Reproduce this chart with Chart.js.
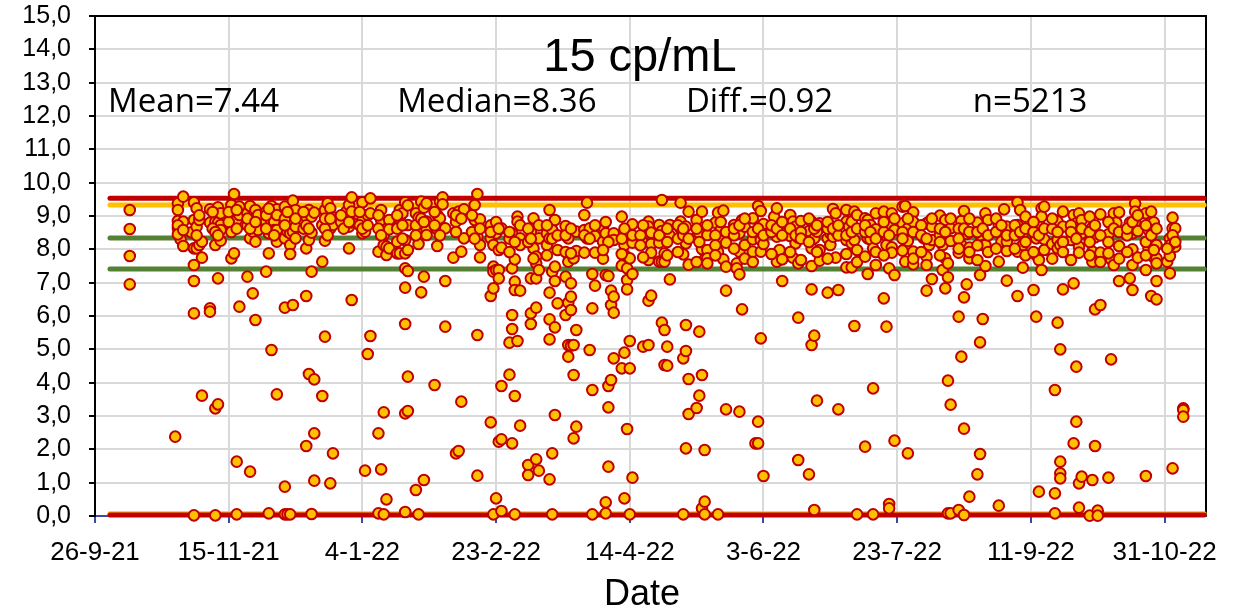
<!DOCTYPE html>
<html>
<head>
<meta charset="utf-8">
<title>15 cp/mL</title>
<script src="https://cdn.jsdelivr.net/npm/chart.js@4"></script>
<style>
    body { margin: 0; background: #ffffff; }
    canvas { display: block; }
</style>
</head>
<body>
<canvas id="chart" width="1234" height="610"></canvas>
<script>
// x axis runs in days since the first tick (26-9-21)
const dateTicks = ['26-9-21', '15-11-21', '4-1-22', '23-2-22', '14-4-22', '3-6-22', '23-7-22', '11-9-22', '31-10-22'];
const valueTicks = ['0,0', '1,0', '2,0', '3,0', '4,0', '5,0', '6,0', '7,0', '8,0', '9,0', '10,0', '11,0', '12,0', '13,0', '14,0', '15,0'];
const daysShown = 415.5;

// [day, [values read on that day]]
const readingsFirst = [
    [13, [9.18, 8.61, 7.80, 6.95]], [30, [2.38]], [31, [9.38, 9.18, 8.85, 8.63]], [32, [8.63, 8.30]],
    [33, [9.58, 8.83, 8.10]], [36, [8.51]], [37, [9.41, 8.88, 8.03, 7.53, 7.05, 6.08, 0.02]],
    [38, [9.23, 8.68, 8.03]], [39, [8.88, 8.13]], [40, [8.23, 7.75, 3.61]], [43, [9.20, 8.80, 6.23, 6.13]],
    [45, [8.83, 8.13, 3.23, 0.02]], [46, [9.26, 8.80, 7.13, 3.35]], [47, [9.08, 8.73, 8.58, 8.26]],
    [51, [9.33, 8.88, 8.73, 7.73]], [52, [9.66, 8.93, 8.68, 7.88]], [53, [8.88, 1.63, 0.05]],
    [54, [9.28, 9.03, 6.28]], [57, [9.08, 7.18]], [58, [9.30, 8.88, 8.33, 1.33]], [59, [8.98, 8.53, 6.68]],
    [60, [9.18, 8.23, 5.88]], [61, [9.03, 8.58]], [64, [9.13, 8.83, 7.33]], [65, [8.48, 7.88, 0.08]],
    [66, [9.30, 8.83, 8.58, 4.98]], [67, [9.08, 8.83, 8.58]], [68, [9.20, 9.03, 8.58, 8.23, 3.65]],
    [71, [9.28, 8.33, 6.25, 0.88, 0.05]], [72, [8.88, 8.53, 0.05]], [73, [8.83, 8.48, 8.13, 7.86, 0.05]],
    [74, [9.46, 8.53, 6.33]], [75, [9.18, 8.68, 8.33]], [78, [8.88]], [79, [8.98, 8.03, 6.60, 2.10]],
    [80, [9.18, 8.28, 4.26]], [81, [8.98, 8.50, 7.33, 0.06]], [82, [9.10, 4.10, 2.48, 1.06]],
    [85, [8.73, 7.63, 3.60]], [86, [9.18, 8.26, 5.38]], [87, [9.38, 8.68, 8.53]], [88, [9.23, 8.63, 0.98]],
    [89, [8.95, 8.73, 1.88]], [94, [9.13, 8.88, 8.73]], [95, [9.33, 8.68, 8.03]], [96, [9.56, 9.13, 8.81, 6.48]],
    [100, [9.41, 8.88, 8.48]], [101, [8.53, 1.36]], [102, [9.03, 4.86]], [103, [9.53, 9.08, 5.40]],
    [106, [7.93, 2.48, 0.08]], [107, [9.18, 8.88, 1.40]], [108, [8.43, 8.13, 3.11, 0.05]], [109, [8.08, 7.83, 0.50]],
    [110, [8.88, 8.60, 8.03]], [113, [8.23, 7.88]], [114, [9.18, 8.93, 8.73, 7.88]], [115, [9.08]],
    [116, [9.41, 8.28, 7.88, 7.43, 6.85, 5.76, 3.08, 0.12]], [117, [8.73, 7.98, 7.35, 4.18, 3.15]],
    [120, [9.08, 0.78]], [121, [8.95, 8.16, 0.05]], [122, [9.43, 8.58, 6.71]], [123, [9.25, 7.18, 1.08]],
    [124, [9.38, 8.83, 8.58, 8.43]], [127, [3.93]], [128, [9.03, 8.60, 8.10]], [129, [9.43, 8.93]],
    [130, [9.56, 9.35]], [131, [8.63, 7.05, 5.68]], [134, [9.08, 7.75]], [135, [8.83, 1.88]],
    [136, [9.13, 1.95]], [137, [7.93, 3.43]], [138, [9.20, 8.33]]
];
const readingsMiddle = [
    [142, [9.33, 8.88]], [143, [9.66, 8.38, 5.43, 1.21]], [144, [8.90, 8.13, 7.76]], [148, [8.33, 6.60, 2.81]],
    [149, [8.13, 7.48, 7.33, 6.83, 0.05]], [150, [8.48, 7.38, 0.53]], [151, [7.98, 7.38, 7.13, 2.23]],
    [152, [8.63, 8.05, 3.90, 2.30, 0.15]], [155, [5.20, 4.24]], [156, [8.48, 7.43, 6.03, 5.61, 2.18]],
    [157, [7.70, 7.03, 6.78, 3.60, 0.05]], [158, [8.98, 8.83, 5.25]], [159, [8.33, 8.13, 6.76, 2.71]],
    [162, [1.53, 1.23]], [163, [8.53, 7.13, 6.08, 5.76]], [164, [8.93, 8.03]], [165, [7.78, 7.58, 7.13, 6.25, 1.70]],
    [166, [8.33, 7.38, 1.36]], [169, [8.48, 8.13]], [170, [9.18, 8.33, 6.70, 5.90, 5.30, 1.10]],
    [171, [8.58, 7.33, 1.88, 0.05]], [172, [8.88, 7.48, 7.05, 5.66, 3.03]], [173, [7.98, 6.38]],
    [176, [8.70, 7.18, 6.03]], [177, [8.33, 7.63, 6.40, 5.13, 4.78]], [178, [6.98, 6.58, 6.18, 5.11]],
    [179, [7.73, 5.13, 4.23, 2.33]], [180, [8.53, 7.95, 5.58, 2.68]], [183, [9.03, 8.58, 7.90]], [184, [9.40, 8.33]],
    [185, [8.63, 4.98]], [186, [7.26, 6.23, 3.78, 0.05]], [187, [8.40, 7.90, 6.91]], [190, [8.68, 8.23]],
    [191, [8.48, 7.23, 0.41, 0.08]], [192, [7.20, 3.90, 3.26, 1.48]], [193, [8.28, 6.76, 6.33, 4.08]],
    [194, [8.48, 8.28, 6.58, 6.10, 4.73]], [197, [8.98, 7.51, 4.43]], [198, [8.13, 7.83, 4.90, 0.53]],
    [199, [8.53, 7.43, 7.08, 6.80, 2.61]], [200, [7.73, 5.25, 4.43, 0.05]], [201, [8.75, 8.20, 7.26, 1.15]],
    [205, [8.20, 5.08]], [207, [8.83, 8.68, 7.68, 6.46, 5.13]], [208, [8.50, 8.16, 7.90, 6.61]],
    [211, [8.73, 8.20, 7.63]], [212, [9.48, 8.55, 7.63, 5.80]], [213, [7.88, 7.63, 5.58, 4.53]], [214, [5.08, 4.51]],
    [215, [8.73, 8.41, 7.10]], [219, [9.40, 8.83, 8.63]], [220, [7.85, 4.73, 0.05]], [221, [8.68, 8.18, 5.73, 4.95, 2.03]],
    [222, [9.13, 7.54, 4.11, 3.06]], [225, [8.88, 8.38, 3.24]], [226, [8.48, 5.53, 3.61]], [227, [9.13, 8.01, 4.23, 0.23]],
    [228, [7.70, 1.98, 0.43, 0.05]], [229, [8.43, 7.98, 7.73, 7.58]], [232, [8.80]], [233, [9.10, 7.93, 0.05]],
    [234, [8.58, 8.28]], [235, [9.16, 8.26, 7.70]], [236, [8.20, 7.48, 6.76, 3.20]], [239, [8.73]], [240, [7.58, 7.43]],
    [241, [8.48, 7.93, 7.25, 3.13]], [242, [8.88, 6.20]], [243, [8.68, 8.13]], [246, [8.93, 8.30, 7.93]], [247, [2.18]],
    [248, [9.30, 2.83, 2.18]], [249, [9.15, 8.28, 7.93, 5.33]], [250, [8.76, 8.16, 1.20]], [254, [8.98]],
    [255, [9.23, 8.38, 7.63]], [256, [8.55, 7.98]], [257, [7.70, 7.05]], [260, [9.03, 8.40]], [261, [8.83, 7.75]],
    [262, [8.68, 8.18]], [263, [8.35, 7.58, 5.95, 1.68]], [264, [8.85]], [267, [8.55, 1.25]],
    [268, [8.83, 8.03, 7.50, 6.80, 5.13]], [269, [8.33, 5.41, 0.18]], [270, [8.53, 3.46]], [271, [8.78, 7.98, 7.66]],
    [274, [8.33, 6.70]], [275, [8.48, 8.13]], [276, [9.21, 8.38]], [277, [9.08, 8.55, 7.75]], [278, [6.78, 3.20]],
    [281, [9.18, 8.83, 8.28, 7.46]], [282, [8.68]]
];
const readingsLast = [
    [283, [8.83, 8.18, 7.46]], [284, [9.13, 8.28, 5.70]], [285, [9.03, 7.98, 0.05]], [288, [8.93, 2.08]],
    [289, [8.88, 8.33, 7.26]], [290, [8.73, 8.30]], [291, [8.03, 3.83, 0.05]], [292, [9.08, 8.60, 7.53]],
    [295, [9.13, 6.53]], [296, [8.41, 8.13, 5.68]], [297, [8.73, 7.43, 0.36, 0.23]], [298, [9.08, 8.06, 7.90]],
    [299, [8.58, 7.23, 2.26]], [302, [9.28, 8.78]], [303, [9.30, 8.03, 7.63]], [304, [8.63, 8.25, 1.88]],
    [306, [9.11, 8.83, 7.93, 7.55]], [310, [8.33]], [311, [8.78, 7.78, 7.53, 6.76]], [312, [8.83, 8.13]],
    [313, [8.68, 8.28, 7.11]], [316, [9.01, 8.43]], [317, [8.13, 7.38]], [318, [8.88, 7.73, 6.83]],
    [319, [7.58, 7.16, 4.06, 0.08]], [320, [8.63, 8.25, 3.34, 0.08]], [323, [7.90, 5.98, 0.18]], [324, [8.85, 8.13, 4.78]],
    [325, [9.15, 6.56, 2.62, 0.03]], [326, [8.46, 6.95]], [327, [8.05, 7.73, 0.58]], [330, [8.80, 1.25]],
    [331, [8.43, 7.23, 5.21, 1.86]], [332, [8.28, 8.13, 5.91]], [333, [9.08, 8.13, 7.50]], [334, [8.88]],
    [338, [8.73, 7.63, 0.31]], [339, [8.23]], [340, [9.20, 8.60]], [341, [8.68, 8.23, 7.95, 7.06]],
    [345, [9.41, 8.73, 7.93, 6.60]], [346, [9.18]], [347, [8.48, 8.13, 7.45]], [348, [8.98]], [351, [6.78]],
    [352, [8.33, 7.83, 5.98]], [353, [8.78, 7.68, 0.73]], [354, [9.23, 8.98, 7.38]], [355, [9.28, 8.30, 7.98]],
    [358, [8.16]], [359, [8.88, 3.78, 0.68, 0.08]], [360, [8.83, 8.28, 8.03, 5.80]], [361, [8.13, 5.00, 1.63, 1.28, 1.13]],
    [362, [9.13, 8.68, 6.80]], [365, [8.28]], [366, [9.03, 6.98, 2.18]], [367, [8.78, 4.48, 2.83]],
    [368, [9.08, 8.08, 7.90, 0.98, 0.25]], [369, [8.88, 8.48, 1.18]], [372, [8.98, 0.01]], [373, [8.66, 7.93, 7.63, 1.08]],
    [374, [8.36, 6.20, 2.10]], [375, [0.16, 0.01]], [376, [9.05, 7.90, 6.33]], [379, [8.45, 1.15]], [380, [7.70, 4.70]],
    [381, [9.08, 7.53]], [382, [8.80]], [383, [9.11, 8.10, 7.05]], [387, [8.80, 7.13]], [388, [8.48, 8.00, 7.53, 6.78]],
    [389, [9.38, 9.13, 8.81]], [390, [8.55, 7.75]], [393, [9.08, 7.38, 1.20]], [394, [8.58, 8.03]],
    [395, [9.13, 8.81, 6.60]], [396, [8.81, 7.76]], [397, [8.13, 7.73, 7.58, 7.05, 6.50]], [401, [7.63]],
    [402, [8.33, 7.80, 7.28]], [403, [8.95, 8.63, 1.43]], [404, [8.63, 8.08]], [407, [3.23, 3.18, 2.98]]
];
// the crowded 8-9 band, estimated where marks overlap
const readingsBand = [
    [31, [8.72, 8.45]], [33, [8.58]], [38, [8.42]], [39, [9.02]], [44, [9.12, 8.62]], [45, [8.52]], [46, [8.42]],
    [50, [8.82, 9.12]], [51, [8.52]], [53, [9.18, 8.62]], [57, [8.72, 8.92]], [58, [8.62]], [60, [8.82]],
    [64, [8.62, 9.02]], [65, [9.22]], [67, [8.42]], [71, [8.92, 8.72]], [72, [9.12]], [75, [8.92]],
    [78, [9.12, 8.62]], [79, [8.72]], [80, [8.62]], [86, [8.62, 8.92]], [87, [8.42]], [88, [8.92]],
    [92, [8.82, 9.02]], [93, [8.62]], [95, [8.82]], [99, [9.12, 8.72]], [100, [8.62]], [102, [8.72]],
    [106, [9.02, 8.62]], [107, [8.42]], [113, [8.62, 9.02]], [115, [8.72, 8.32]], [117, [9.32]],
    [120, [8.72, 8.42]], [122, [8.92]], [123, [8.82]], [127, [8.72, 9.12]], [129, [8.42]], [135, [8.52, 9.02]],
    [137, [8.92]], [141, [8.52, 9.02]], [142, [8.32]], [144, [8.62]], [148, [8.72, 8.52]], [150, [8.82]],
    [151, [8.62]], [155, [8.32, 8.52]], [157, [8.22]], [159, [8.72]], [162, [8.22, 8.62]], [163, [8.32]],
    [166, [8.72]], [169, [8.72]], [171, [8.32]], [173, [8.42]], [176, [8.42, 7.92]], [178, [8.62]],
    [183, [8.42]], [185, [8.32]], [187, [8.72]], [191, [8.82]], [192, [8.22]], [197, [8.32]], [198, [8.62]],
    [201, [8.42]], [204, [8.42, 8.12]], [205, [8.72]], [211, [8.42]], [214, [8.62, 8.22]], [218, [8.32, 8.72]],
    [220, [8.42, 8.62]], [222, [8.32]], [225, [8.62]], [226, [8.22]], [229, [8.72]], [232, [8.42, 8.12]],
    [234, [8.82]], [236, [8.52]], [239, [8.42, 8.62]], [241, [8.72]], [243, [8.92]], [246, [8.52]], [248, [8.62]],
    [250, [8.42]], [253, [8.52, 8.72]], [255, [8.62]], [257, [8.82, 8.42]], [260, [8.62]], [262, [8.42]],
    [264, [8.52, 8.32]], [267, [8.22, 8.92]], [269, [8.62]], [270, [8.72]], [274, [8.62, 8.82]], [276, [8.62]],
    [278, [8.42, 8.72]], [281, [8.42]], [283, [8.52]], [285, [8.62]], [288, [8.52, 8.72]], [290, [8.52]],
    [292, [8.32]], [295, [8.52, 8.82]], [297, [8.42]], [299, [8.92]], [302, [8.52, 8.32]], [304, [8.92]],
    [306, [8.52]], [309, [8.72, 8.42]], [311, [8.32]], [313, [8.92]], [316, [8.62, 8.22]], [318, [8.52]],
    [320, [8.92]], [323, [8.62, 8.32]], [325, [8.62]], [327, [8.52, 8.92]], [330, [8.52, 8.12]], [332, [8.62]],
    [334, [8.42]], [337, [8.52, 8.92]], [339, [8.72]], [341, [8.42]], [344, [8.42, 8.72]], [346, [8.52]],
    [348, [8.62, 8.22]], [351, [8.52, 8.82]], [353, [8.42]], [355, [8.62]], [358, [8.62, 8.92]], [360, [8.52]],
    [362, [8.22]], [365, [8.72, 8.52]], [367, [8.32]], [369, [8.62]], [372, [8.52, 8.22]], [374, [8.72]],
    [376, [8.42]], [379, [8.82, 8.22]], [381, [8.62]], [383, [8.52]], [386, [8.42, 8.62]], [388, [8.82]],
    [390, [9.02]], [393, [8.72, 8.22]], [395, [8.42]], [397, [8.62]], [402, [8.12]], [403, [8.42]], [404, [8.22]]
];
// lower edge of that band, between the mean and median lines
const readingsLowBand = [
    [155, [7.92]], [164, [7.72]], [169, [7.82]], [178, [7.88]], [190, [7.72, 7.98]], [197, [7.86]], [205, [7.76]],
    [214, [7.82]], [218, [7.92]], [225, [7.62]], [232, [7.82]], [239, [8.02]], [243, [7.72]], [246, [7.62]],
    [253, [7.86]], [260, [7.92]], [264, [7.68]], [270, [7.92]], [274, [7.72]], [281, [7.86]], [285, [7.62]],
    [288, [7.78]], [292, [7.92]], [295, [7.82]], [302, [7.96]], [306, [7.72]], [309, [7.92]], [316, [7.82]],
    [323, [8.02]], [327, [7.92]], [330, [7.68]], [334, [7.92]], [337, [8.02]], [344, [8.02]], [348, [7.82]],
    [351, [7.92]], [358, [7.72]], [362, [7.92]], [365, [7.68]], [372, [7.82]], [376, [7.62]], [379, [7.88]],
    [383, [7.72]], [386, [7.92]], [393, [7.82]], [396, [7.98]], [401, [8.02]]
];

// control lines: upper limit, 9.33, median, mean, two low lines
const limitDays = [5.6, 414.8];
const upperRed = 9.53;
const upperGold = 9.33;
const medianLine = 8.34;
const meanLine = 7.41;
const lowerGold = 0.07;
const lowerRed = 0.03;

const chartTitle = '15 cp/mL';
const axisTitle = 'Date';
const statLabels = ['Mean=7.44', 'Median=8.36', 'Diff.=0.92', 'n=5213'];
const statDays = [4.9, 113, 221, 328.3];

// flatten the day rows into scatter points
const points = [];
[readingsFirst, readingsMiddle, readingsLast, readingsBand, readingsLowBand].forEach(rows => {
    rows.forEach(([day, values]) => {
        values.forEach(value => points.push({ x: day, y: value }));
    });
});

function limitLine(value, color, order) {
    return {
        type: 'scatter',
        showLine: true,
        data: limitDays.map(day => ({ x: day, y: value })),
        borderColor: color,
        borderWidth: 5,
        borderCapStyle: 'round',
        pointRadius: 0,
        clip: false,
        order: order
    };
}

// black top/right frame plus the free texts
const overlayPlugin = {
    id: 'overlay',
    beforeDatasetsDraw(chart) {
        const { ctx, chartArea, scales } = chart;
        ctx.save();
        ctx.strokeStyle = '#000000';
        ctx.lineWidth = 2;
        ctx.beginPath();
        ctx.moveTo(chartArea.left, chartArea.top);
        ctx.lineTo(chartArea.right, chartArea.top);
        ctx.lineTo(chartArea.right, chartArea.bottom);
        ctx.stroke();
        ctx.fillStyle = '#000000';
        ctx.textBaseline = 'middle';
        ctx.textAlign = 'center';
        ctx.font = '47px "Liberation Sans"';
        ctx.fillText(chartTitle, scales.x.getPixelForValue(203.8), scales.y.getPixelForValue(13.75));
        ctx.font = '36px "Liberation Sans"';
        ctx.fillText(axisTitle, scales.x.getPixelForValue(204.6), chartArea.bottom + 79);
        ctx.textAlign = 'left';
        ctx.font = '33px "Open Sans"';
        statLabels.forEach((label, i) => {
            ctx.fillText(label, scales.x.getPixelForValue(statDays[i]), scales.y.getPixelForValue(12.39));
        });
        ctx.restore();
    }
};

new Chart(document.getElementById('chart').getContext('2d'), {
    type: 'scatter',
    data: {
        datasets: [
            {
                data: points,
                backgroundColor: '#ffc000',
                borderColor: '#c00000',
                borderWidth: 2,
                pointRadius: 5.3,
                clip: false,
                order: 0
            },
            limitLine(upperRed, '#c00000', 2),
            limitLine(upperGold, '#ffc000', 3),
            limitLine(medianLine, '#548235', 4),
            limitLine(meanLine, '#548235', 5),
            limitLine(lowerRed, '#c00000', 1),
            limitLine(lowerGold, '#ffc000', 6)
        ]
    },
    options: {
        responsive: false,
        animation: false,
        layout: { padding: { top: 16, right: 28, left: 0, bottom: 0 } },
        plugins: { legend: { display: false }, tooltip: { enabled: false } },
        scales: {
            x: {
                type: 'linear',
                min: 0,
                max: daysShown,
                afterFit(scale) {
                    scale.height = 94;
                    scale.paddingLeft = 0;
                    scale.paddingRight = 0;
                },
                grid: { color: '#d9d9d9', lineWidth: 2, tickColor: '#3f48a8', tickLength: 7 },
                border: { color: '#3f48a8', width: 2 },
                ticks: {
                    stepSize: 50,
                    includeBounds: false,
                    autoSkip: false,
                    maxRotation: 0,
                    padding: 14,
                    color: '#000000',
                    font: { family: '"Liberation Sans"', size: 26 },
                    callback: value => dateTicks[Math.round(value / 50)]
                }
            },
            y: {
                min: 0,
                max: 15,
                afterFit(scale) {
                    scale.width = 95;
                    scale.paddingTop = 0;
                    scale.paddingBottom = 0;
                },
                grid: { color: '#d9d9d9', lineWidth: 2, tickColor: '#000000', tickLength: 6 },
                border: { color: '#000000', width: 2 },
                ticks: {
                    stepSize: 1,
                    autoSkip: false,
                    padding: 18,
                    color: '#000000',
                    font: { family: '"Liberation Sans"', size: 25 },
                    callback: value => valueTicks[value]
                }
            }
        }
    },
    plugins: [overlayPlugin]
});
</script>
</body>
</html>
